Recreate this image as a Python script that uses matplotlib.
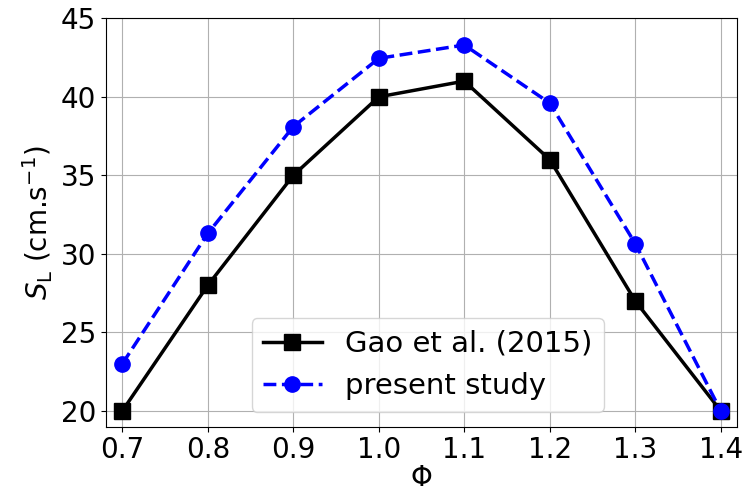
import matplotlib
matplotlib.use('Agg')
import matplotlib.pyplot as plt

phi = [0.7, 0.8, 0.9, 1.0, 1.1, 1.2, 1.3, 1.4]
gao_2015 = [20, 28, 35, 40, 41, 36, 27, 20]
present = [23.0, 31.3, 38.1, 42.45, 43.3, 39.6, 30.65, 20.0]

fig = plt.figure(figsize=(7.43, 5.04), dpi=100)
ax = fig.add_axes([0.1427, 0.1534, 0.8493, 0.8103])

ax.plot(phi, gao_2015, 's-', color='black', lw=2.5, ms=11, label='Gao et al. (2015)')
ax.plot(phi, present, 'o--', color='blue', lw=2.5, ms=11, label='present study')

ax.set_xlim(0.681, 1.419)
ax.set_ylim(19, 45)
ax.set_xticks(phi)
ax.set_yticks([20, 25, 30, 35, 40, 45])
ax.tick_params(labelsize=20)
ax.set_xlabel(r'$\Phi$', fontsize=20, labelpad=0)
ax.set_ylabel(r'$S_\mathrm{L}$ (cm.s$^{-1}$)', fontsize=20, labelpad=4)
ax.grid(True)
ax.legend(loc='lower center', fontsize=21, bbox_to_anchor=(0.51, 0.0))

plt.savefig('out.png', dpi=100)
